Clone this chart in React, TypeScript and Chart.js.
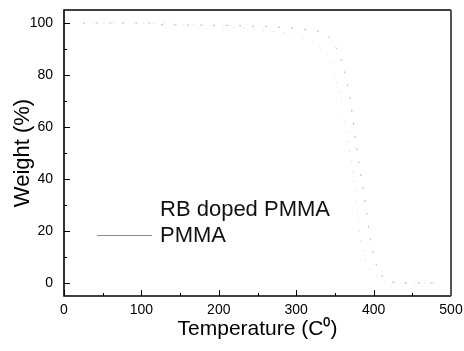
import React, { useEffect, useRef } from "react";
import { Chart, registerables } from "chart.js";

Chart.register(...registerables);

const FONT = "'Liberation Sans', Arial, sans-serif";

// Data
const rbTemps = [25, 60, 100, 150, 200, 250, 290, 320, 340, 350, 358, 365, 372, 378, 383, 390, 400, 415, 440, 480];
const rbWeights = [100, 100, 100, 99.5, 99, 97.5, 96, 93, 88, 80, 70, 58, 45, 30, 17, 8, 3, 0.5, 0, 0];

const pmmaTemps = [25, 60, 110, 130, 175, 220, 270, 300, 327, 340, 355, 362, 369, 373, 379, 386, 392, 397, 402, 408, 415, 430, 480];
const pmmaWeights = [100, 100, 100, 99.2, 99.2, 99, 98.5, 98, 97, 95.4, 89, 82, 72, 64, 50, 37, 25, 15, 8, 4, 1, 0, 0];

const seriesLabels = ["RB doped PMMA", "PMMA"];

const xMajorTicks = [0, 100, 200, 300, 400, 500];
const xMinorTicks = [50, 150, 250, 350, 450];
const yMajorTicks = [0, 20, 40, 60, 80, 100];
const yMinorTicks = [10, 30, 50, 70, 90];

const frameAndLegend = {
  id: "frameAndLegend",
  afterDatasetsDraw(chart: any) {
    const { ctx, chartArea } = chart;
    const { left, right, top, bottom } = chartArea;
    const xs = chart.scales.x;
    const ys = chart.scales.y;
    ctx.save();
    // ticks (inward)
    ctx.strokeStyle = "#000";
    ctx.lineWidth = 1;
    ctx.beginPath();
    xMajorTicks.forEach((v) => {
      const p = Math.round(xs.getPixelForValue(v)) + 0.5;
      ctx.moveTo(p, bottom);
      ctx.lineTo(p, bottom - 6);
    });
    xMinorTicks.forEach((v) => {
      const p = Math.round(xs.getPixelForValue(v)) + 0.5;
      ctx.moveTo(p, bottom);
      ctx.lineTo(p, bottom - 3);
    });
    yMajorTicks.forEach((v) => {
      const p = Math.round(ys.getPixelForValue(v)) + 0.5;
      ctx.moveTo(left, p);
      ctx.lineTo(left + 6, p);
    });
    yMinorTicks.forEach((v) => {
      const p = Math.round(ys.getPixelForValue(v)) + 0.5;
      ctx.moveTo(left, p);
      ctx.lineTo(left + 3, p);
    });
    ctx.stroke();
    // frame
    ctx.lineWidth = 1.6;
    ctx.strokeStyle = "#000";
    ctx.beginPath();
    ctx.moveTo(right, top);
    ctx.lineTo(left, top);
    ctx.lineTo(left, bottom);
    ctx.lineTo(right, bottom);
    ctx.stroke();
    ctx.lineWidth = 2;
    ctx.strokeStyle = "#555";
    ctx.beginPath();
    ctx.moveTo(right, top);
    ctx.lineTo(right, bottom);
    ctx.stroke();

    // legend
    const ds = chart.data.datasets;
    ctx.font = `22px ${FONT}`;
    ctx.fillStyle = "#111";
    ctx.textBaseline = "middle";
    ctx.textAlign = "left";
    const rows = [209, 235];
    ds.forEach((d: any, i: number) => {
      const y = rows[i];
      ctx.strokeStyle = i === 1 ? "#8a8a8a" : "rgba(220,220,220,0.1)";
      ctx.lineWidth = 1;
      ctx.setLineDash(i === 1 ? [] : [1, 8]);
      ctx.beginPath();
      ctx.moveTo(97, y + 0.5);
      ctx.lineTo(152, y + 0.5);
      ctx.stroke();
      ctx.setLineDash([]);
      ctx.fillText(d.label, 160, y + 1);
    });
    ctx.restore();
  },
};

export default function App() {
  const ref = useRef<HTMLCanvasElement | null>(null);
  useEffect(() => {
    document.body.style.margin = "0";
    const canvas = ref.current;
    if (!canvas) return;
    const chart = new Chart(canvas, {
      type: "line",
      data: {
        datasets: [
          {
            label: seriesLabels[0],
            data: rbTemps.map((t, i) => ({ x: t, y: rbWeights[i] })),
            borderColor: "#d2d2d2",
            borderWidth: 1,
            borderDash: [1, 9],
            pointRadius: 0,
            fill: false,
            tension: 0,
          },
          {
            label: seriesLabels[1],
            data: pmmaTemps.map((t, i) => ({ x: t, y: pmmaWeights[i] })),
            borderColor: "#b8b8b8",
            borderWidth: 1,
            borderDash: [2, 11],
            pointRadius: 0,
            fill: false,
            tension: 0,
          },
        ],
      },
      options: {
        responsive: false,
        animation: false,
        layout: { padding: { left: 0, right: 13, top: 10, bottom: 0 } },
        plugins: { legend: { display: false }, tooltip: { enabled: false } },
        scales: {
          x: {
            type: "linear",
            min: 0,
            max: 500,
            afterBuildTicks: (s: any) => {
              s.ticks = xMajorTicks.map((v) => ({ value: v }));
            },
            afterFit: (s: any) => {
              s.height = 55;
              s.paddingLeft = 0;
              s.paddingRight = 0;
            },
            grid: { display: false, drawTicks: false },
            border: { display: false },
            ticks: {
              color: "#000",
              font: { family: FONT, size: 14 },
              padding: 6,
              maxRotation: 0,
            },
            title: {
              display: true,
              text: "Temperature (C⁰)",
              color: "#000",
              font: { family: FONT, size: 21 },
              padding: { top: 0, bottom: 9 },
            },
          },
          y: {
            type: "linear",
            min: -5,
            max: 105,
            afterBuildTicks: (s: any) => {
              s.ticks = yMajorTicks.map((v) => ({ value: v }));
            },
            afterFit: (s: any) => {
              s.width = 64;
              s.paddingTop = 0;
              s.paddingBottom = 0;
            },
            grid: { display: false, drawTicks: false },
            border: { display: false },
            ticks: {
              color: "#000",
              font: { family: FONT, size: 14 },
              padding: 11,
            },
            title: {
              display: true,
              text: "Weight (%)",
              color: "#000",
              font: { family: FONT, size: 22 },
              padding: { top: 10, bottom: 0 },
            },
          },
        },
      },
      plugins: [frameAndLegend],
    } as any);
    return () => chart.destroy();
  }, []);
  return (
    <div style={{ width: 464, height: 351, background: "#fff" }}>
      <canvas ref={ref} width={464} height={351} style={{ display: "block" }} />
    </div>
  );
}
